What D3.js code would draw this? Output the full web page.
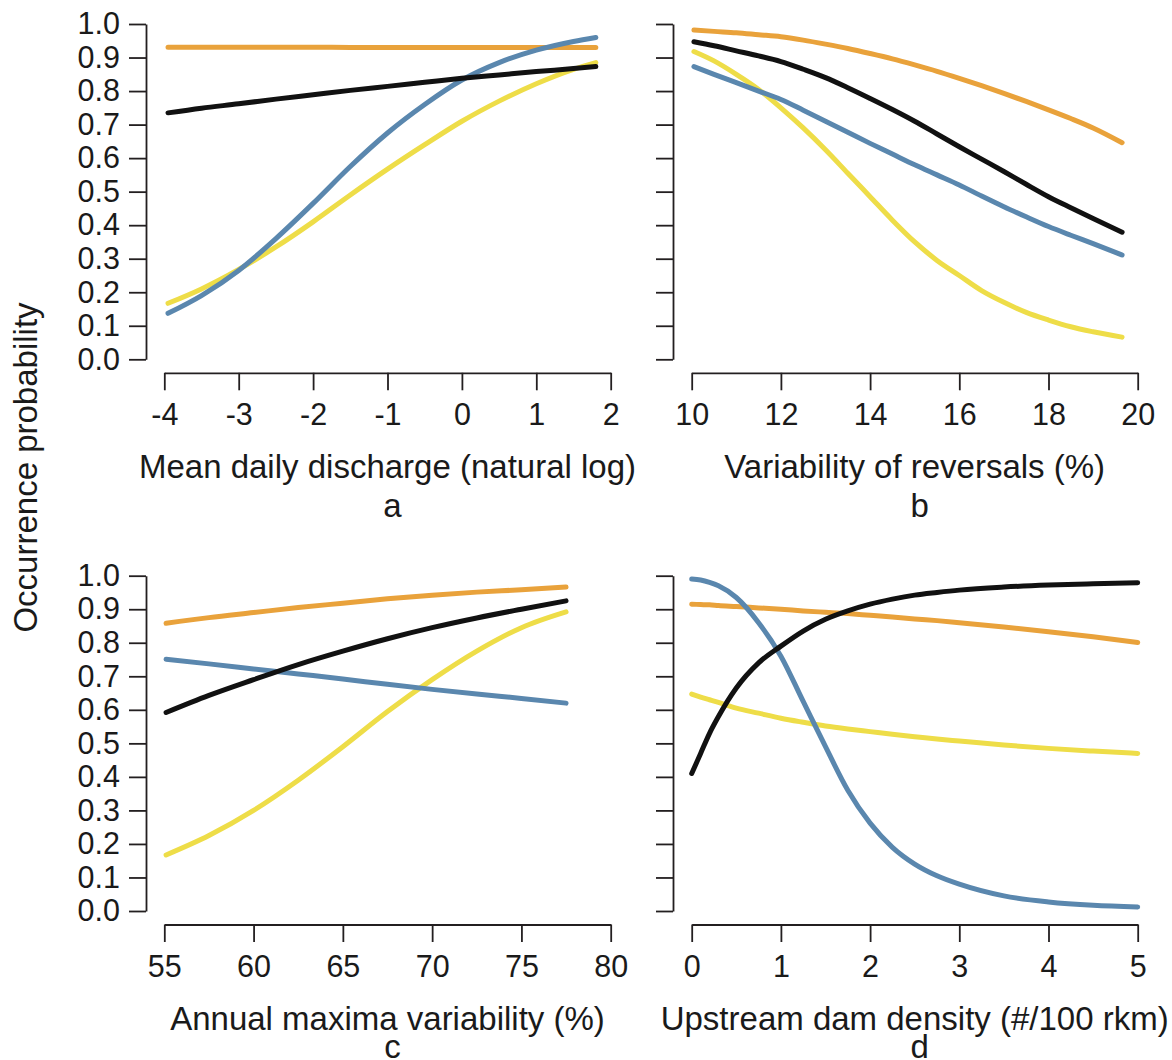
<!DOCTYPE html>
<html>
<head>
<meta charset="utf-8">
<script src="https://cdn.jsdelivr.net/npm/d3@7"></script>
<style>
  html, body { margin: 0; padding: 0; background: #fff; }
  svg { display: block; font-family: "Liberation Sans", Arial, Helvetica, sans-serif; }
</style>
</head>
<body>
<div id="chart"></div>
<script>
// Values (occurrence probability).

// a: mean daily discharge (natural log)
const aX = [-3.95, -3.5, -3, -2.5, -2, -1.5, -1, -0.5, 0, 0.5, 1, 1.5, 1.8];
const aOrange = [0.931, 0.931, 0.931, 0.931, 0.931, 0.930, 0.930, 0.930, 0.930, 0.930, 0.930, 0.930, 0.930];
const aBlack = [0.735, 0.749, 0.762, 0.776, 0.789, 0.802, 0.814, 0.826, 0.838, 0.848, 0.858, 0.867, 0.873];
const aBlue = [0.137, 0.19, 0.265, 0.36, 0.465, 0.575, 0.675, 0.76, 0.833, 0.885, 0.922, 0.948, 0.96];
const aYellow = [0.167, 0.21, 0.268, 0.335, 0.41, 0.49, 0.567, 0.64, 0.71, 0.77, 0.822, 0.865, 0.885];

// b: variability of reversals (%)
const bX = [10.05, 10.5, 11, 11.5, 12, 12.5, 13, 13.5, 14, 14.5, 15, 15.5, 16, 16.5, 17, 17.5, 18, 18.5, 19, 19.65];
const bOrange = [0.982, 0.978, 0.974, 0.968, 0.962, 0.952, 0.94, 0.927, 0.912, 0.896, 0.878, 0.859, 0.838, 0.816, 0.793, 0.769, 0.744, 0.718, 0.69, 0.646];
const bBlack = [0.947, 0.935, 0.92, 0.905, 0.888, 0.865, 0.84, 0.81, 0.778, 0.745, 0.71, 0.672, 0.634, 0.597, 0.56, 0.522, 0.485, 0.452, 0.42, 0.379];
const bBlue = [0.873, 0.85, 0.825, 0.8, 0.775, 0.743, 0.71, 0.677, 0.644, 0.612, 0.58, 0.55, 0.52, 0.487, 0.455, 0.425, 0.396, 0.37, 0.345, 0.311];
const bYellow = [0.918, 0.89, 0.85, 0.805, 0.75, 0.69, 0.625, 0.555, 0.485, 0.415, 0.35, 0.295, 0.25, 0.205, 0.17, 0.14, 0.117, 0.097, 0.082, 0.066];

// c: annual maxima variability (%)
const cX = [55.1, 57.5, 60, 62.5, 65, 67.5, 70, 72.5, 75, 77.5];
const cOrange = [0.858, 0.875, 0.89, 0.905, 0.918, 0.931, 0.942, 0.951, 0.958, 0.966];
const cBlack = [0.592, 0.643, 0.69, 0.735, 0.775, 0.812, 0.845, 0.874, 0.9, 0.925];
const cBlue = [0.751, 0.737, 0.722, 0.707, 0.692, 0.676, 0.661, 0.647, 0.634, 0.62];
const cYellow = [0.167, 0.225, 0.3, 0.39, 0.49, 0.595, 0.69, 0.775, 0.845, 0.892];

// d: upstream dam density (#/100 rkm)
const dX = [0, 0.1, 0.2, 0.3, 0.5, 0.75, 1, 1.25, 1.5, 1.75, 2, 2.25, 2.5, 2.75, 3, 3.5, 4, 4.5, 5];
const dOrange = [0.915, 0.914, 0.913, 0.911, 0.908, 0.904, 0.9, 0.895, 0.891, 0.887, 0.882, 0.877, 0.871, 0.866, 0.86, 0.847, 0.833, 0.818, 0.801];
const dBlack = [0.41, 0.47, 0.53, 0.58, 0.665, 0.74, 0.79, 0.835, 0.87, 0.895, 0.915, 0.93, 0.942, 0.95, 0.957, 0.966, 0.972, 0.976, 0.979];
const dBlue = [0.99, 0.987, 0.98, 0.97, 0.935, 0.86, 0.76, 0.625, 0.49, 0.36, 0.262, 0.19, 0.14, 0.105, 0.08, 0.045, 0.027, 0.017, 0.012];
const dYellow = [0.647, 0.638, 0.63, 0.622, 0.605, 0.59, 0.575, 0.563, 0.552, 0.543, 0.535, 0.527, 0.52, 0.513, 0.507, 0.495, 0.485, 0.477, 0.47];

// Axis ticks and titles
const yTicks = [0, 0.1, 0.2, 0.3, 0.4, 0.5, 0.6, 0.7, 0.8, 0.9, 1.0];
const aTicks = [-4, -3, -2, -1, 0, 1, 2];
const bTicks = [10, 12, 14, 16, 18, 20];
const cTicks = [55, 60, 65, 70, 75, 80];
const dTicks = [0, 1, 2, 3, 4, 5];
const xTitles = ['Mean daily discharge (natural log)', 'Variability of reversals (%)',
  'Annual maxima variability (%)', 'Upstream dam density (#/100 rkm)'];
const panelLetters = ['a', 'b', 'c', 'd'];
const yTitle = 'Occurrence probability';

// Colours, drawn in this order (black ends up on top)
const seriesOrder = ['yellow', 'orange', 'blue', 'black'];
const colors = {
  yellow: '#EEDD48',
  orange: '#E9A23B',
  blue: '#5A87AE',
  black: '#111111'
};

const width = 1172;
const height = 1060;
const axisColor = '#231f20';

const svg = d3.select('#chart')
  .append('svg')
  .attr('width', width)
  .attr('height', height);

// Pixel layout of each panel (left/right x range, top/bottom y range)
const cols = [[164.3, 610.7], [691.7, 1137.7]];
const rows = [[24, 359.3], [575.7, 911]];
// The bottom row's letters sit right on the lower edge of the figure
const letterOffset = [144, 133];

const panels = [
  { x: aX, s: { orange: aOrange, black: aBlack, blue: aBlue, yellow: aYellow }, dom: [-4, 2], ticks: aTicks, col: 0, row: 0 },
  { x: bX, s: { orange: bOrange, black: bBlack, blue: bBlue, yellow: bYellow }, dom: [10, 20], ticks: bTicks, col: 1, row: 0 },
  { x: cX, s: { orange: cOrange, black: cBlack, blue: cBlue, yellow: cYellow }, dom: [55, 80], ticks: cTicks, col: 0, row: 1 },
  { x: dX, s: { orange: dOrange, black: dBlack, blue: dBlue, yellow: dYellow }, dom: [0, 5], ticks: dTicks, col: 1, row: 1 }
];

panels.forEach((p, i) => {
  const [x0, x1] = cols[p.col];
  const [yTop, yBot] = rows[p.row];

  const x = d3.scaleLinear().domain(p.dom).range([x0, x1]);
  const y = d3.scaleLinear().domain([0, 1]).range([yBot, yTop]);

  // R-style detached axes
  const yAxisX = p.col === 0 ? 146 : 673;
  const xAxisY = yBot + 13.5;

  const yAxis = d3.axisLeft(y)
    .tickValues(yTicks)
    .tickSize(17)
    .tickSizeOuter(0)
    .tickPadding(9)
    .tickFormat(p.col === 0 ? d3.format('.1f') : '');

  const gy = svg.append('g')
    .attr('transform', `translate(${yAxisX},0)`)
    .call(yAxis);

  const xAxis = d3.axisBottom(x)
    .tickValues(p.ticks)
    .tickSize(17.5)
    .tickSizeOuter(0)
    .tickPadding(13)
    .tickFormat(d => String(d));

  const gx = svg.append('g')
    .attr('transform', `translate(0,${xAxisY})`)
    .call(xAxis);

  [gx, gy].forEach(g => {
    g.selectAll('path, line')
      .attr('stroke', axisColor)
      .attr('stroke-width', 1.8);
    g.selectAll('text')
      .attr('fill', '#1a1a1a')
      .style('font-size', '30.5px')
      .style('font-family', '"Liberation Sans", Arial, sans-serif');
  });

  // Curves
  const line = d3.line()
    .x(d => x(d[0]))
    .y(d => y(d[1]))
    .curve(d3.curveMonotoneX);

  seriesOrder.forEach(key => {
    const pts = p.x.map((v, j) => [v, p.s[key][j]]);
    svg.append('path')
      .datum(pts)
      .attr('d', line)
      .attr('fill', 'none')
      .attr('stroke', colors[key])
      .attr('stroke-width', 5)
      .attr('stroke-linecap', 'round')
      .attr('stroke-linejoin', 'round');
  });

  // Axis title and panel letter
  const cx = (x0 + x1) / 2;
  svg.append('text')
    .attr('x', cx)
    .attr('y', xAxisY + 105)
    .attr('text-anchor', 'middle')
    .attr('fill', '#1a1a1a')
    .style('font-size', '33px')
    .text(xTitles[i]);

  svg.append('text')
    .attr('x', cx + 5)
    .attr('y', xAxisY + letterOffset[p.row])
    .attr('text-anchor', 'middle')
    .attr('fill', '#1a1a1a')
    .style('font-size', '33px')
    .text(panelLetters[i]);
});

// Shared y title
svg.append('text')
  .attr('transform', `translate(37,${(rows[0][0] + rows[1][1]) / 2}) rotate(-90)`)
  .attr('text-anchor', 'middle')
  .attr('fill', '#1a1a1a')
  .style('font-size', '33px')
  .text(yTitle);
</script>
</body>
</html>
